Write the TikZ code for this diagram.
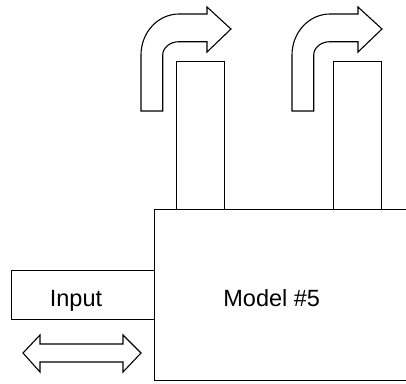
\documentclass[tikz,border=0pt]{standalone}
\usepackage{fontspec}
\setmainfont{Liberation Sans}

\begin{document}
\begin{tikzpicture}[x=1pt, y=-1pt, line width=1.1pt,
    box/.style={draw, rectangle, fill=white, inner sep=0pt, anchor=north west},
    txt/.style={font=\fontsize{23.5}{28}\selectfont, inner sep=0pt, anchor=base},
    bigarrow/.style={draw, fill=white, line join=miter}]
    \useasboundingbox (0,0) rectangle (406,383);
    \clip (0,0) rectangle (406,383);

    % outputs
    \node[box, minimum width=48, minimum height=150] (outA) at (176,61) {};
    \node[box, minimum width=48, minimum height=150] (outB) at (333,61) {};

    % input and model
    \node[box, minimum width=143, minimum height=49] (input) at (11,270) {};
    \node[box, minimum width=270, minimum height=171] (model) at (154,209) {};
    \node[txt] (inputtext) at (76,306) {Input};
    \node[txt] (modeltext) at (271.7,306) {Model \#5};

    % bent arrows
    \foreach \dx in {0,151} {
        \draw[bigarrow, shift={(\dx,0)}] (141,111) -- (141,55)
            arc[start angle=180, end angle=270, x radius=38, y radius=41]
            -- (207,14) -- (207,7) -- (231,29) -- (207,52) -- (207,41.7) -- (179,41.7)
            arc[start angle=270, end angle=180, x radius=16.3, y radius=13.3]
            -- (162.7,111) -- cycle;
    }

    % double arrow
    \draw[bigarrow] (23,353) -- (40,335) -- (40,344) -- (123,344) -- (123,335) -- (141,353)
        -- (123,372) -- (123,362) -- (40,362) -- (40,372) -- cycle;
\end{tikzpicture}
\end{document}
